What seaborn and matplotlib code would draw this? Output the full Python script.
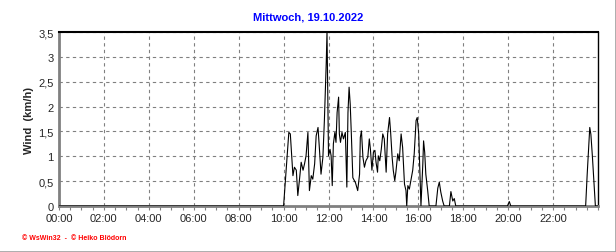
import matplotlib
matplotlib.use("Agg")
import matplotlib.pyplot as plt
import seaborn as sns
import pandas as pd
from matplotlib.ticker import FuncFormatter, MultipleLocator
from matplotlib.lines import Line2D

# ---- data ----
times = ["00:00", "10:00", "10:14", "10:18", "10:25", "10:29", "10:34", "10:38", "10:43", "10:47",
         "10:52", "10:56", "11:00", "11:05", "11:09", "11:14", "11:18", "11:23", "11:27", "11:32",
         "11:36", "11:40", "11:45", "11:49", "11:54", "11:56", "11:58", "12:00", "12:04", "12:07",
         "12:10", "12:13", "12:17", "12:20", "12:23", "12:27", "12:29", "12:32", "12:36", "12:40",
         "12:45", "12:49", "12:52", "12:55", "12:58", "13:01", "13:05", "13:12", "13:18", "13:23",
         "13:25", "13:28", "13:32", "13:36", "13:40", "13:45", "13:49", "13:52", "13:56", "14:00",
         "14:04", "14:07", "14:11", "14:13", "14:17", "14:21", "14:25", "14:29", "14:34", "14:38",
         "14:43", "14:46", "14:50", "14:53", "14:57", "15:00", "15:05", "15:09", "15:14", "15:18",
         "15:23", "15:27", "15:29", "15:32", "15:36", "15:40", "15:45", "15:49", "15:54", "15:57",
         "16:01", "16:04", "16:07", "16:12", "16:14", "16:17", "16:20", "16:25", "16:29", "16:47",
         "16:52", "16:56", "17:00", "17:05", "17:09", "17:23", "17:27", "17:32", "17:36", "17:40",
         "19:58", "20:03", "20:07", "23:27", "23:31", "23:38", "23:41", "23:45", "23:49", "23:53",
         "23:59"]
wind = [0.0, 0.0, 1.48, 1.45, 0.61, 0.78, 0.72, 0.21, 0.57, 0.88,
        0.72, 0.85, 1.01, 1.48, 0.31, 0.61, 0.54, 0.85, 1.41, 1.58,
        1.12, 0.64, 0.98, 1.72, 2.89, 3.5, 2.28, 1.01, 1.14, 1.01,
        0.41, 1.25, 1.48, 1.28, 1.88, 2.19, 1.45, 1.28, 1.48, 1.35,
        1.48, 0.38, 1.88, 2.39, 2.05, 1.45, 0.57, 0.47, 0.31, 0.64,
        1.38, 1.51, 0.98, 0.78, 0.91, 0.98, 1.35, 1.14, 0.72, 1.08,
        1.12, 0.88, 0.68, 1.01, 0.91, 1.14, 1.45, 1.35, 0.68, 1.45,
        1.78, 1.48, 0.98, 0.72, 0.51, 0.68, 1.05, 0.91, 1.45, 1.18,
        0.44, 0.31, 0.0, 0.41, 0.34, 0.51, 0.72, 1.05, 1.72, 1.78,
        1.45, 0.72, 0.0, 0.85, 1.31, 1.08, 0.64, 0.31, 0.0, 0.0,
        0.36, 0.48, 0.28, 0.1, 0.0, 0.0, 0.29, 0.1, 0.15, 0.0,
        0.0, 0.09, 0.0, 0.0, 0.62, 1.58, 1.44, 1.0, 0.5, 0.0,
        0.0]
x_tick_labels = ["00:00", "02:00", "04:00", "06:00", "08:00", "10:00",
                 "12:00", "14:00", "16:00", "18:00", "20:00", "22:00"]
title = "Mittwoch, 19.10.2022"
ylabel = "Wind  (km/h)"
footer = "\u00a9 WsWin32  -  \u00a9 Heiko Blödorn"

def to_hours(t):
    h, m = t.split(":")
    return int(h) + int(m) / 60.0

df = pd.DataFrame({"hour": [to_hours(t) for t in times], "wind": wind})

sns.set_style("white")
plt.rcParams["font.family"] = ["Liberation Sans", "DejaVu Sans"]

fig = plt.figure(figsize=(6.16, 2.53), dpi=100)
ax = fig.add_axes([59 / 616, 1 - 207 / 253, (598 - 59) / 616, (207 - 33) / 253])

sns.lineplot(data=df, x="hour", y="wind", ax=ax, color="black", linewidth=0.8,
             estimator=None, sort=False, zorder=3)

ax.set_xlim(0, 24)
ax.set_ylim(0, 3.5)
ax.set_xticks([to_hours(t) for t in x_tick_labels])
ax.set_xticklabels(x_tick_labels)
ax.xaxis.set_minor_locator(MultipleLocator(0.5))
ax.yaxis.set_major_locator(MultipleLocator(0.5))
ax.yaxis.set_major_formatter(FuncFormatter(
    lambda v, p: (f"{v:g}").replace(".", ",")))

ax.grid(True, which="major", color="#808080", linestyle=(0, (3, 3)), linewidth=0.8)
ax.tick_params(axis="x", which="both", direction="out", length=3, width=0.8,
               color="#808080", labelsize=8, pad=2, bottom=True)
ax.tick_params(axis="y", which="both", length=0, labelsize=8, pad=4, left=False)

for side in ["left", "bottom"]:
    ax.spines[side].set_color("#808080")
    ax.spines[side].set_linewidth(2.0)
ax.spines["top"].set_color("black")
ax.spines["top"].set_linewidth(1.5)
ax.spines["right"].set_color("black")
ax.spines["right"].set_linewidth(1.0)

ax.set_xlabel("")
ax.set_ylabel(ylabel, fontsize=8, fontweight="bold", labelpad=3)

fig.text(0.5, 1 - 18 / 253, title, ha="center", va="center", color="#0000FF",
         fontsize=8, fontweight="bold")
fig.text(22 / 616, 1 - 239 / 253, footer, ha="left", va="center", color="#FF0000",
         fontsize=5, fontweight="bold")

# outer frame (gray bottom and right edge)
fig.add_artist(Line2D([0, 1], [0.5 / 253, 0.5 / 253], transform=fig.transFigure,
                      color="#A0A0A0", linewidth=1.2))
fig.add_artist(Line2D([1 - 0.5 / 616, 1 - 0.5 / 616], [0, 1], transform=fig.transFigure,
                      color="#A0A0A0", linewidth=1.2))

fig.savefig("out.png", dpi=100, facecolor="white")
